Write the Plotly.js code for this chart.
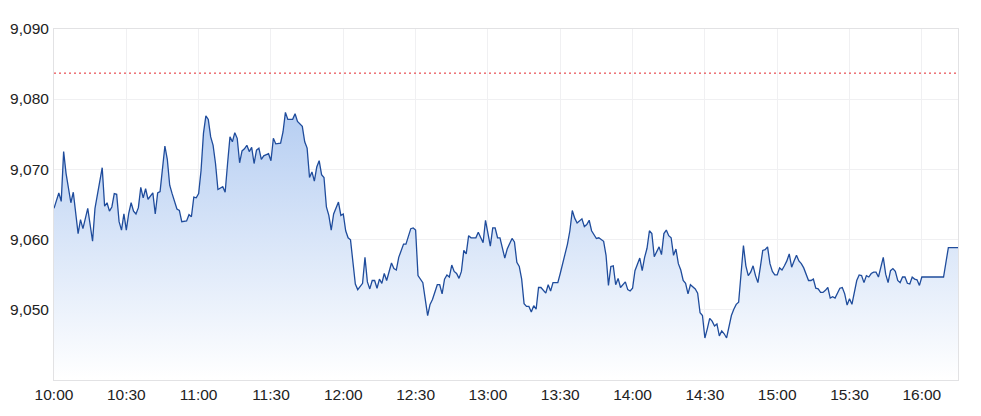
<!DOCTYPE html>
<html>
<head>
<meta charset="utf-8">
<script src="https://cdn.plot.ly/plotly-3.0.1.min.js"></script>
<style>
  html, body { margin: 0; padding: 0; background: #fff; }
  #chart { width: 981px; height: 416px; }
</style>
</head>
<body>
<div id="chart"></div>
<script>
var day = '2024-05-20'
var prevClose = 9083.7

var yTicks = [9050, 9060, 9070, 9080, 9090]

var times = [
  '10:00','10:02','10:03','10:04','10:05','10:07','10:08','10:10','10:11','10:12',
  '10:14','10:16','10:17','10:20','10:21','10:22','10:23','10:24','10:25','10:26',
  '10:27','10:28','10:29','10:30','10:31','10:32','10:33','10:34','10:35','10:36',
  '10:37','10:38','10:39','10:41','10:42','10:43','10:44','10:46','10:47','10:48',
  '10:49','10:51','10:52','10:53','10:55','10:56','10:57','10:58','10:59','11:00',
  '11:01','11:02','11:03','11:04','11:05','11:06','11:07','11:08','11:10','11:11',
  '11:12','11:13','11:14','11:15','11:16','11:17','11:18','11:19','11:20','11:21',
  '11:22','11:23','11:24','11:25','11:26','11:27','11:29','11:30','11:31','11:32',
  '11:34','11:35','11:36','11:37','11:39','11:40','11:41','11:43','11:44','11:45',
  '11:46','11:47','11:48','11:49','11:50','11:51','11:52','11:53','11:54','11:55',
  '11:56','11:58','11:59','12:00','12:01','12:02','12:03','12:04','12:05','12:06',
  '12:08','12:09','12:10','12:11','12:12','12:13','12:14','12:15','12:16','12:17',
  '12:18','12:20','12:21','12:22','12:23','12:25','12:26','12:28','12:29','12:30',
  '12:31','12:33','12:35','12:36','12:37','12:39','12:40','12:41','12:42','12:43',
  '12:44','12:45','12:46','12:47','12:48','12:49','12:50','12:51','12:52','12:53',
  '12:55','12:56','12:57','12:58','12:59','13:00','13:01','13:02','13:03','13:04',
  '13:05','13:07','13:08','13:10','13:11','13:12','13:13','13:14','13:15','13:16',
  '13:17','13:18','13:19','13:20','13:21','13:22','13:24','13:25','13:26','13:27',
  '13:29','13:30','13:31','13:33','13:34','13:35','13:36','13:37','13:39','13:40',
  '13:41','13:42','13:43','13:45','13:46','13:48','13:49','13:50','13:51','13:52',
  '13:53','13:54','13:55','13:57','13:58','13:59','14:00','14:01','14:03','14:04',
  '14:05','14:06','14:07','14:08','14:09','14:10','14:11','14:12','14:13','14:14',
  '14:15','14:16','14:17','14:18','14:19','14:20','14:21','14:22','14:23','14:24',
  '14:25','14:26','14:27','14:28','14:29','14:30','14:31','14:32','14:33','14:34',
  '14:35','14:36','14:37','14:38','14:39','14:40','14:41','14:42','14:43','14:44',
  '14:45','14:46','14:47','14:48','14:49','14:50','14:51','14:52','14:53','14:54',
  '14:55','14:56','14:57','14:58','14:59','15:00','15:01','15:02','15:03','15:04',
  '15:05','15:06','15:07','15:08','15:09','15:10','15:11','15:12','15:13','15:14',
  '15:15','15:16','15:17','15:18','15:19','15:20','15:21','15:22','15:23','15:24',
  '15:25','15:26','15:27','15:28','15:29','15:30','15:31','15:32','15:33','15:34',
  '15:35','15:36','15:37','15:38','15:39','15:40','15:41','15:42','15:43','15:44',
  '15:45','15:46','15:47','15:48','15:49','15:50','15:51','15:52','15:53','15:54',
  '15:55','15:56','15:57','15:58','15:59','16:00','16:09','16:11','16:15'
]

var prices = [
  9064.4,9066.6,9065.4,9072.5,9069.4,9065.2,9066.7,9060.8,9062.8,9061.5,
  9064.4,9059.7,9064.4,9070.2,9064.7,9065.2,9064.0,9064.6,9066.5,9066.4,
  9062.5,9061.3,9063.6,9061.3,9063.7,9065.2,9064.0,9063.6,9064.5,9067.4,
  9065.9,9067.2,9065.7,9066.6,9063.6,9066.6,9066.8,9073.3,9071.4,9067.7,
  9066.5,9064.3,9064.1,9062.5,9062.6,9063.5,9063.2,9066.0,9065.9,9066.5,
  9069.8,9075.1,9077.6,9077.1,9074.6,9073.4,9070.8,9067.1,9067.5,9066.7,
  9070.8,9074.6,9073.9,9075.2,9074.4,9070.9,9072.6,9072.9,9073.4,9072.5,
  9073.1,9070.8,9072.7,9073.0,9071.4,9071.9,9072.2,9071.2,9074.4,9073.6,
  9073.7,9075.3,9078.1,9077.1,9077.1,9077.9,9076.8,9076.1,9073.9,9073.0,
  9068.8,9069.6,9068.3,9070.3,9071.2,9069.2,9068.8,9064.6,9063.4,9061.3,
  9063.6,9065.3,9063.4,9063.6,9061.2,9060.2,9059.9,9056.5,9053.6,9052.8,
  9053.7,9057.4,9053.9,9052.9,9054.1,9054.1,9053.0,9054.3,9053.7,9055.1,
  9054.1,9056.6,9055.8,9055.6,9057.4,9059.3,9059.3,9061.5,9061.6,9061.3,
  9054.8,9053.8,9049.1,9050.7,9051.4,9053.5,9053.5,9052.2,9054.3,9054.9,
  9054.6,9056.3,9055.4,9055.1,9054.4,9055.4,9058.4,9057.9,9060.5,9060.2,
  9060.2,9061.0,9060.3,9059.5,9062.7,9060.8,9059.0,9061.6,9061.6,9060.2,
  9060.2,9057.3,9058.6,9060.1,9059.6,9056.7,9056.1,9054.3,9050.8,9050.4,
  9050.4,9049.6,9050.5,9050.0,9053.1,9053.1,9052.3,9053.5,9052.6,9053.8,
  9053.8,9055.1,9056.5,9059.3,9061.2,9064.1,9063.0,9062.3,9062.9,9061.8,
  9062.1,9062.7,9061.2,9060.1,9060.2,9059.7,9057.7,9053.4,9056.1,9056.2,
  9053.5,9054.4,9053.1,9053.9,9052.8,9052.6,9053.0,9055.5,9057.3,9055.5,
  9057.4,9058.7,9061.2,9060.8,9057.5,9058.3,9058.9,9057.8,9060.8,9061.3,
  9060.5,9060.2,9057.7,9058.6,9056.5,9055.6,9054.1,9053.7,9052.2,9053.5,
  9053.2,9052.9,9052.3,9049.5,9049.1,9045.9,9047.2,9048.7,9048.3,9047.6,
  9047.9,9046.2,9046.9,9046.5,9045.9,9047.6,9049.1,9050.0,9050.7,9051.0,
  9055.5,9059.1,9056.2,9054.8,9055.3,9056.2,9054.8,9053.8,9056.0,9058.4,
  9058.5,9058.9,9056.5,9055.4,9054.9,9054.9,9055.9,9055.6,9056.2,9056.9,
  9057.9,9056.0,9056.9,9057.7,9056.9,9056.5,9055.9,9054.9,9054.1,9054.1,
  9054.3,9053.0,9052.9,9052.4,9052.4,9052.7,9053.1,9051.6,9051.8,9051.6,
  9052.4,9053.0,9053.1,9052.2,9050.6,9051.5,9050.7,9052.2,9054.1,9054.9,
  9054.8,9053.8,9054.8,9054.6,9055.1,9055.3,9055.3,9054.6,9056.2,9057.4,
  9055.0,9053.8,9055.5,9055.8,9055.4,9054.1,9053.8,9054.6,9054.6,9053.7,
  9053.6,9054.6,9054.3,9054.2,9053.4,9054.6,9054.6,9058.8,9058.8
]

var x = times.map(t => day + ' ' + t)

var trace = {
    x: x,
    y: prices,
    type: 'scatter',
    mode: 'lines',
    line: {color: '#1f4c9c', width: 1.3},
    fill: 'tozeroy',
    fillgradient: {
        type: 'vertical',
        start: 9040,
        stop: 9078,
        colorscale: [[0, 'rgba(255,255,255,1)'], [1, 'rgb(182,206,242)']]
    },
    hoverinfo: 'x+y',
    showlegend: false
}

var layout = {
    width: 981,
    height: 416,
    margin: {l: 54, r: 23, t: 29, b: 36},
    paper_bgcolor: '#fff',
    plot_bgcolor: '#fff',
    font: {family: '"Liberation Sans", Arial, sans-serif', size: 15.5, color: '#222'},
    xaxis: {
        type: 'date',
        range: [day + ' 10:00', day + ' 16:15'],
        tick0: day + ' 10:00',
        dtick: 30 * 60 * 1000,
        tickformat: '%H:%M',
        showgrid: true,
        gridcolor: '#f0f0f2',
        showline: true,
        mirror: true,
        linecolor: '#e2e2e4',
        linewidth: 1,
        ticks: '',
        zeroline: false,
        fixedrange: true
    },
    yaxis: {
        range: [9039.9, 9090],
        tickvals: yTicks,
        tickformat: ',d',
        showgrid: true,
        gridcolor: '#f0f0f2',
        showline: true,
        mirror: true,
        linecolor: '#e2e2e4',
        linewidth: 1,
        ticks: '',
        ticklabelstandoff: 1,
        zeroline: false,
        fixedrange: true
    },
    shapes: [{
        type: 'line',
        xref: 'paper', x0: 0, x1: 1,
        yref: 'y', y0: prevClose, y1: prevClose,
        line: {color: '#e3262b', width: 1, dash: '2px,3px'}
    }]
}

Plotly.newPlot('chart', [trace], layout, {displayModeBar: false, staticPlot: true})
</script>
</body>
</html>
